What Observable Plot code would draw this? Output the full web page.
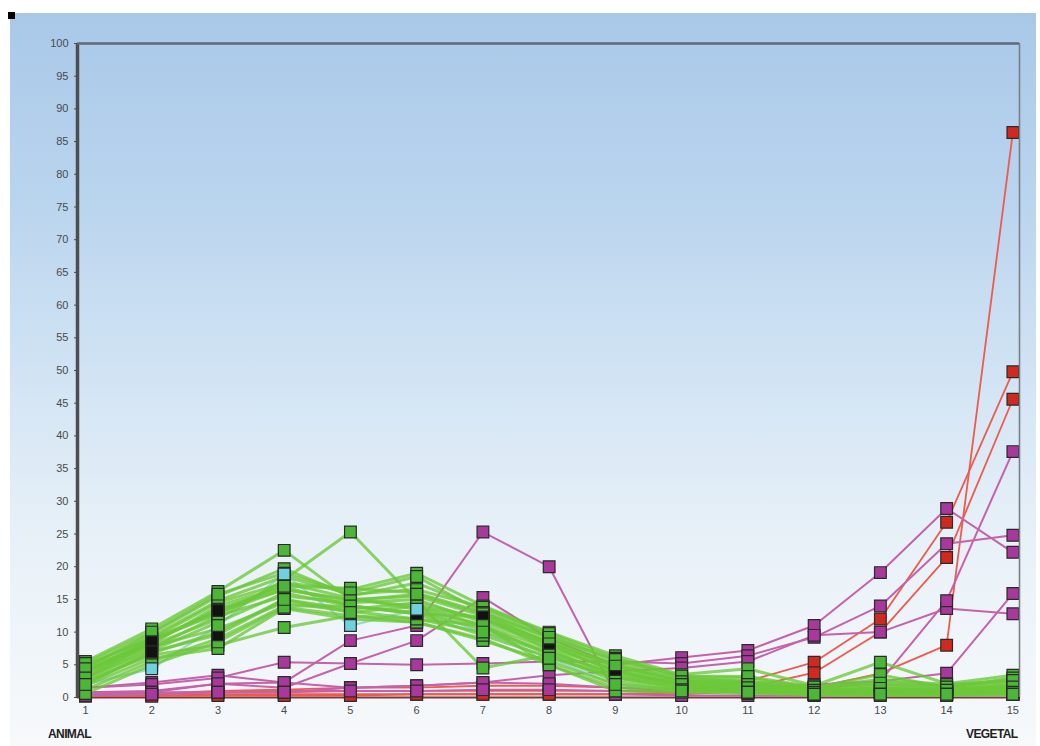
<!DOCTYPE html>
<html>
<head>
<meta charset="utf-8">
<script src="https://cdn.jsdelivr.net/npm/d3@7"></script>
<script src="https://cdn.jsdelivr.net/npm/@observablehq/plot@0.6"></script>
<style>
  html, body { margin: 0; padding: 0; background: #fff; }
  #wrap { position: relative; width: 1040px; height: 746px; overflow: hidden; }
  #bg { position: absolute; left: 10px; top: 13px; width: 1026px; height: 733px;
        background: linear-gradient(to bottom, #a9c8e8 0%, #b9d4ee 25%, #d2e4f4 50%, #e8f1f8 72%, #f7f9fb 100%); }
  #blk { position: absolute; left: 8px; top: 12px; width: 7px; height: 7px; background: #000; }
  #chart { position: absolute; left: 0; top: 0; }
  .end { position: absolute; top: 727px; font-family: "Liberation Sans", Arial, sans-serif;
         font-weight: bold; font-size: 12px; color: #222; letter-spacing: -0.6px; }
</style>
</head>
<body>
<div id="wrap">
  <div id="bg"></div>
  <div id="blk"></div>
  <div id="chart"></div>
  <span class="end" style="left:48px">ANIMAL</span>
  <span class="end" style="left:966px">VEGETAL</span>
</div>
<script>
const stages = [1, 2, 3, 4, 5, 6, 7, 8, 9, 10, 11, 12, 13, 14, 15];
const yTicks = [0, 5, 10, 15, 20, 25, 30, 35, 40, 45, 50, 55, 60, 65, 70, 75, 80, 85, 90, 95, 100];
const endLabels = ["ANIMAL", "VEGETAL"];

const greenSeries = [
  [5.5, 10.5, 16.2, 22.5, 15.0, 14.0, 12.0, 8.0, 4.0, 2.0, 1.5, 1.0, 1.0, 0.8, 1.0],
  [4.5, 9.8, 15.5, 19.7, 15.5, 17.5, 13.5, 9.5, 5.5, 3.0, 2.5, 1.5, 2.0, 1.5, 2.2],
  [3.8, 8.0, 12.0, 18.0, 25.3, 14.8, 4.5, 6.5, 3.0, 1.5, 1.0, 0.5, 0.8, 0.5, 0.8],
  [5.0, 9.0, 14.5, 17.5, 16.5, 19.0, 14.0, 10.0, 6.4, 3.5, 4.4, 1.8, 5.4, 2.1, 3.4],
  [2.5, 6.5, 8.0, 10.7, 12.5, 11.5, 9.0, 5.0, 1.5, 1.0, 0.8, 0.5, 0.5, 0.5, 0.5],
  [4.0, 9.0, 13.0, 16.5, 15.0, 15.5, 12.5, 8.5, 4.5, 2.5, 2.3, 1.2, 2.5, 1.8, 2.8],
  [3.0, 7.5, 12.5, 15.5, 14.5, 15.0, 11.5, 8.0, 4.0, 2.0, 1.5, 1.0, 1.5, 1.0, 1.5],
  [4.2, 8.2, 14.0, 17.0, 16.7, 16.0, 13.0, 9.0, 5.0, 2.5, 2.0, 1.0, 1.2, 1.2, 2.0],
  [2.8, 7.2, 11.5, 16.0, 14.0, 13.0, 10.5, 7.0, 3.5, 1.8, 1.2, 0.8, 1.0, 0.8, 1.2],
  [3.3, 7.8, 10.5, 14.5, 13.2, 12.0, 10.0, 6.8, 3.8, 2.2, 1.8, 1.5, 2.8, 2.0, 2.5],
  [1.8, 6.0, 7.5, 13.6, 12.0, 11.5, 8.7, 5.5, 2.0, 1.2, 0.8, 0.8, 0.6, 0.5, 0.8],
  [4.8, 9.3, 14.8, 18.5, 15.8, 16.5, 13.8, 9.8, 6.0, 3.2, 3.0, 1.5, 3.5, 1.5, 3.0],
  [2.2, 6.8, 10.0, 15.0, 13.5, 14.5, 12.0, 8.5, 5.0, 2.8, 2.5, 1.2, 1.8, 1.2, 1.8],
  [3.6, 8.8, 12.8, 17.5, 15.2, 13.5, 11.0, 7.5, 4.2, 2.0, 1.5, 0.8, 1.0, 0.8, 1.4],
  [1.2, 5.5, 9.0, 14.0, 14.0, 12.8, 9.5, 6.2, 3.0, 1.5, 1.0, 0.6, 0.8, 0.6, 1.0],
  [0.6, 5.0, 8.5, 13.8, 12.5, 12.0, 11.0, 5.0, 1.0, 0.8, 0.6, 0.4, 0.4, 0.4, 0.6],
  [5.2, 10.0, 15.8, 19.0, 16.0, 18.5, 13.0, 9.2, 5.8, 3.3, 3.2, 1.6, 2.2, 1.6, 2.6],
  [4.4, 8.5, 13.5, 16.5, 14.8, 15.8, 12.8, 8.2, 4.8, 2.4, 2.0, 1.1, 1.4, 1.1, 1.6],
  [3.0, 8.5, 13.3, 17.0, 14.0, 12.8, 12.3, 7.3, 3.2, 2.0, 1.5, 0.8, 0.5, 0.5, 0.8],
  [2.0, 7.0, 9.6, 15.0, 13.0, 14.0, 11.0, 6.5, 2.5, 1.2, 0.8, 0.5, 0.3, 0.3, 0.5]
];
// stages at which the last two green series show a black marker
const blackMarkStages = [[2, 3, 6, 7, 8, 9], [2, 3]];
const cyanSeries = [
  [2.0, 4.4, 11.0, 18.9, 11.0, 13.5, 10.0, 6.0, 2.0, 1.0, 0.8, 0.5, 0.5, 0.5, 0.5]
];
const cyanMarkStages = [2, 4, 5, 6];
const magentaSeries = [
  [1.5, 2.3, 3.4, 2.3, 8.7, 11.0, 25.3, 20.0, 0.5, 0.3, 0.3, 0.3, 0.5, 0.5, 0.5],
  [0.8, 1.0, 2.1, 1.5, 5.2, 8.7, 15.3, 9.0, 5.0, 6.1, 7.2, 11.0, 19.1, 28.9, 22.2],
  [1.5, 2.0, 3.0, 5.4, 5.2, 5.0, 5.2, 5.5, 5.5, 5.2, 6.4, 9.2, 14.0, 23.5, 24.8],
  [0.8, 0.8, 2.1, 2.3, 1.5, 1.8, 2.3, 3.4, 4.0, 4.5, 5.5, 9.5, 10.0, 13.6, 12.8],
  [0.5, 0.8, 0.8, 0.8, 1.5, 1.8, 2.3, 2.1, 1.5, 1.2, 1.5, 2.0, 2.5, 14.8, 37.6],
  [0.3, 0.5, 0.8, 0.8, 1.0, 1.0, 1.2, 1.2, 1.0, 1.0, 1.0, 1.5, 2.5, 3.7, 15.9]
];
const redSeries = [
  [0.3, 0.3, 0.5, 0.5, 0.5, 0.5, 0.5, 0.5, 0.5, 0.5, 1.0, 1.5, 3.7, 8.0, 86.4],
  [0.5, 0.5, 0.8, 1.0, 1.0, 1.0, 1.0, 1.0, 1.0, 1.0, 2.5, 5.4, 12.0, 26.8, 49.8],
  [0.2, 0.2, 0.3, 0.3, 0.3, 0.5, 0.5, 0.5, 0.5, 0.8, 1.5, 3.8, 10.0, 21.4, 45.6],
  [0.5, 0.6, 1.0, 1.2, 1.5, 1.5, 1.8, 1.8, 1.5, 1.0, 1.0, 0.8, 0.5, 0.5, 0.5]
];

function rows(seriesList, group) {
  return seriesList.flatMap((vals, i) =>
    vals.map((v, j) => ({ id: group + i, group, idx: i, stage: stages[j], value: v })));
}
const red = rows(redSeries, "red");
const magenta = rows(magentaSeries, "mag");
const green = rows(greenSeries, "green");
const cyan = rows(cyanSeries, "cyan");

const nG = greenSeries.length;
function greenFill(d) {
  const k = d.idx - (nG - blackMarkStages.length);
  if (k >= 0 && blackMarkStages[k].includes(d.stage)) return "#121212";
  return "#4cb636";
}
function cyanFill(d) {
  return cyanMarkStages.includes(d.stage) ? "#6fd0e0" : "#4cb636";
}

const xDomain = [0.88, 15.1];
const sq = { symbol: "square", r: 6.6, stroke: "#2a2a2a", strokeWidth: 1.2 };

const chart = Plot.plot({
  width: 1040,
  height: 746,
  marginLeft: 77,
  marginRight: 21,
  marginTop: 43,
  marginBottom: 49,
  style: { background: "transparent", fontFamily: "'Liberation Sans', Arial, sans-serif", fontSize: "11px", color: "#4a4a4a", overflow: "visible" },
  x: { domain: xDomain, ticks: stages, tickFormat: d => String(d), tickSize: 0, tickPadding: 9, label: null },
  y: { domain: [0, 100], ticks: yTicks, tickSize: 3, tickPadding: 6, label: null },
  marks: [
    Plot.ruleY([0], { stroke: "#7a3a3a", strokeWidth: 2 }),
    Plot.line(red, { x: "stage", y: "value", z: "id", stroke: "#ee5a4e", strokeWidth: 1.8 }),
    Plot.line(magenta, { x: "stage", y: "value", z: "id", stroke: "#c462ac", strokeWidth: 2 }),
    Plot.line(cyan, { x: "stage", y: "value", z: "id", stroke: "#9ed8c8", strokeWidth: 2.4 }),
    Plot.line(green, { x: "stage", y: "value", z: "id", stroke: "#6cc83a", strokeWidth: 3, strokeOpacity: 0.78 }),
    Plot.dot(red, { x: "stage", y: "value", fill: "#d02a20", ...sq }),
    Plot.dot(magenta, { x: "stage", y: "value", fill: "#a8389c", ...sq }),
    Plot.dot(green, { x: "stage", y: "value", fill: greenFill, ...sq }),
    Plot.dot(cyan, { x: "stage", y: "value", fill: cyanFill, ...sq }),
    Plot.ruleX([xDomain[0]], { stroke: "#4e4e4e", strokeWidth: 3.5 }),
    Plot.ruleX([xDomain[1]], { stroke: "#7a7f85", strokeWidth: 1.6 }),
    Plot.ruleY([100], { stroke: "#5e6a74", strokeWidth: 2.5 })
  ]
});
document.getElementById("chart").appendChild(chart);
</script>
</body>
</html>
